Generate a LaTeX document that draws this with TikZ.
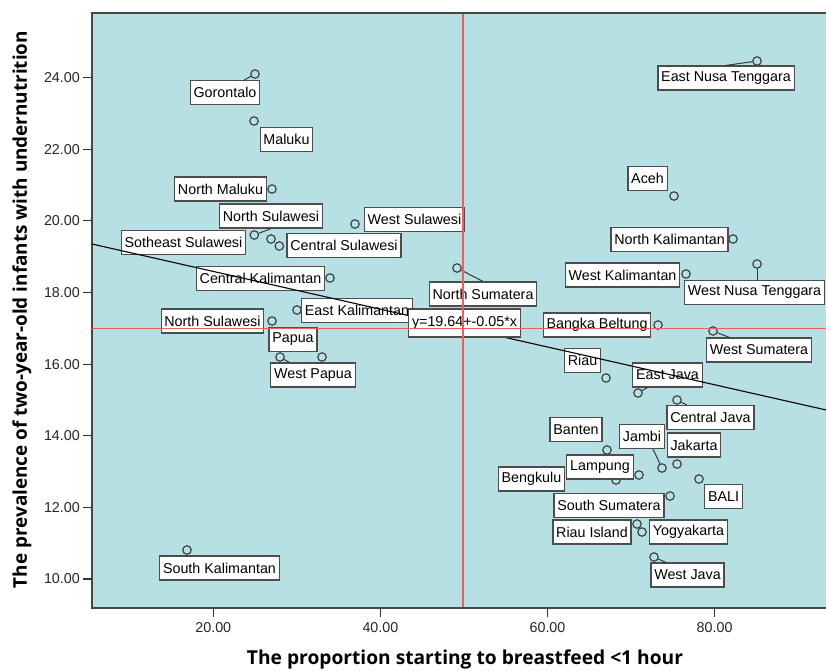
\documentclass[tikz,border=0pt]{standalone}
\usepackage{fontspec}
\usepackage{graphicx}
\setmainfont{Liberation Sans}
\newfontfamily\titlefont{Open Sans}
\definecolor{plotbg}{RGB}{182,224,228}
\definecolor{refred}{RGB}{234,96,96}
\definecolor{frame}{RGB}{70,70,70}
\newcommand{\lblfont}{\fontsize{14.3}{16}\selectfont}
\tikzset{
  lab/.style={draw=black!70, line width=1.2pt, fill=white, inner xsep=3.3pt, inner ysep=0pt,
              minimum height=24pt, font=\lblfont, text=black},
  dot/.style={circle, draw=black!78, line width=1.1pt, minimum size=8.5pt, inner sep=0pt},
  leader/.style={draw=black!78, line width=1pt},
  tickl/.style={font=\lblfont, text=black!85, inner sep=0pt},
  tickm/.style={draw=black!80, line width=1.2pt},
  regl/.style={draw=black, line width=1.1pt}
}
\begin{document}
\begin{tikzpicture}[x=1pt,y=-1pt]
\useasboundingbox (0,0) rectangle (826,670);
\fill[white] (0,0) rectangle (826,670);
% plot area
\draw[fill=plotbg, draw=frame, line width=1.3pt] (92,13) rectangle (832,608);

% y ticks
\foreach \v/\yy in {10.00/579, 12.00/507.4, 14.00/435.7, 16.00/364.1, 18.00/292.4, 20.00/220.8, 22.00/149.1, 24.00/77.5}{
  \draw[tickm] (83,\yy) -- (92,\yy);
  \node[tickl, anchor=east] at (80,\yy) {\v};
}
% x ticks
\foreach \v/\xx in {20.00/213.3, 40.00/380.4, 60.00/547.5, 80.00/714.6}{
  \draw[tickm] (\xx,608) -- (\xx,617);
  \node[tickl] at (\xx,628) {\v};
}

% axis titles
\node (xt) at (465,659) {\resizebox{436pt}{!}{\titlefont\bfseries The proportion starting to breastfeed <1 hour}};
\node[rotate=90] (yt) at (22,309.5) {\resizebox{557pt}{!}{\titlefont\bfseries The prevalence of two-year-old infants with undernutrition}};

% data points
\node[dot] (c1) at (255,74) {};
\node[dot] (c2) at (254,121) {};
\node[dot] (c3) at (272,189) {};
\node[dot] (c4) at (254.3,235) {};
\node[dot] (c5) at (271,239) {};
\node[dot] (c6) at (279.3,246) {};
\node[dot] (c7) at (355,224) {};
\node[dot] (c8) at (330,278) {};
\node[dot] (c9) at (297,310) {};
\node[dot] (c10) at (272,321) {};
\node[dot] (c11) at (280,357) {};
\node[dot] (c12) at (322,357) {};
\node[dot] (c13) at (457,268) {};
\node[dot] (c14) at (686,274) {};
\node[dot] (c15) at (733,239) {};
\node[dot] (c16) at (674,196) {};
\node[dot] (c17) at (757,61) {};
\node[dot] (c18) at (757,264) {};
\node[dot] (c19) at (658,325) {};
\node[dot] (c20) at (713,331) {};
\node[dot] (c21) at (606,378) {};
\node[dot] (c22) at (638,393) {};
\node[dot] (c23) at (677,400) {};
\node[dot] (c24) at (607,450) {};
\node[dot] (c25) at (662,468) {};
\node[dot] (c26) at (677,464) {};
\node[dot] (c27) at (639,475) {};
\node[dot] (c28) at (616,480) {};
\node[dot] (c29) at (699,479) {};
\node[dot] (c30) at (670,496) {};
\node[dot] (c31) at (637,524) {};
\node[dot] (c32) at (642,532) {};
\node[dot] (c33) at (654,557) {};
\node[dot] (c34) at (187,550) {};

% labels
\node[lab] (gor) at (225,92.5) {Gorontalo};
\node[lab] (mal) at (286.5,139.5) {Maluku};
\node[lab] (nmal) at (220.5,189) {North Maluku};
\node[lab] (nsulA) at (271,216) {North Sulawesi};
\node[lab] (wsul) at (414.5,219.5) {West Sulawesi};
\node[lab] (sesul) at (183.5,242.5) {Sotheast Sulawesi};
\node[lab] (csul) at (344,245.5) {Central Sulawesi};
\node[lab] (ckal) at (260.5,278.5) {Central Kalimantan};
\node[lab] (ekal) at (357,310.5) {East Kalimantan};
\node[lab] (nsulB) at (212.5,321) {North Sulawesi};
\node[lab] (pap) at (293,339.5) {Papua};
\node[lab] (wpap) at (313,375) {West Papua};
\node[lab] (nsum) at (483,294) {North Sumatera};
\node[lab] (wkal) at (622.5,275) {West Kalimantan};
\node[lab] (nkal) at (669.5,239.5) {North Kalimantan};
\node[lab] (aceh) at (647.5,178.5) {Aceh};
\node[lab] (ent) at (726,78) {East Nusa Tenggara};
\node[lab, anchor=west] (wnt) at (684,292.5) {West Nusa Tenggara};
\node[lab] (bb) at (597,325) {Bangka Beltung};
\node[lab] (wsum) at (759,350) {West Sumatera};
\node[lab] (riau) at (582.5,360.5) {Riau};
\node[lab] (ej) at (667.5,375) {East Java};
\node[lab] (cj) at (710.5,417.5) {Central Java};
\node[lab] (ban) at (576,429.5) {Banten};
\node[lab] (jam) at (642,436.5) {Jambi};
\node[lab] (jak) at (694,445) {Jakarta};
\node[lab] (lam) at (600,467) {Lampung};
\node[lab] (ben) at (531.5,479) {Bengkulu};
\node[lab] (bali) at (723.5,496.5) {BALI};
\node[lab] (ssum) at (609,505.5) {South Sumatera};
\node[lab] (ri) at (592,532) {Riau Island};
\node[lab] (yog) at (688.5,532) {Yogyakarta};
\node[lab] (wj) at (687.5,575) {West Java};
\node[lab] (skal) at (219.5,568) {South Kalimantan};

% leaders
\draw[leader] (c1) -- (gor.33);
\draw[leader] (c4) -- (nsulA.south);
\draw[leader] (c11) -- (wpap.152);
\draw[leader] (c13) -- (nsum.north);
\draw[leader] (c17) -- (ent.north);
\draw[leader] (c18) -- (c18 |- wnt.north);
\draw[leader] (c20) -- (wsum.157);
\draw[leader] (c22) -- (ej.212);
\draw[leader] (c23) -- (cj.152);
\draw[leader] (c25) -- (jam.311);
\draw[leader] (c33) -- (wj.150);

% regression line
\coordinate (rl1) at (92,244);
\coordinate (rl2) at (832,411.3);
\draw[regl] (rl1) -- (rl2);
\node[lab, minimum height=28pt] (eq) at (464.5,323) {y=19.64+-0.05*x};

% reference lines
\coordinate (hr1) at (92,327.5);
\coordinate (hr2) at (832,329);
\coordinate (vr1) at (462,13.7);
\coordinate (vr2) at (464,607.3);
\fill[refred] (hr1) rectangle (hr2);
\fill[refred] (vr1) rectangle (vr2);
\end{tikzpicture}
\end{document}
